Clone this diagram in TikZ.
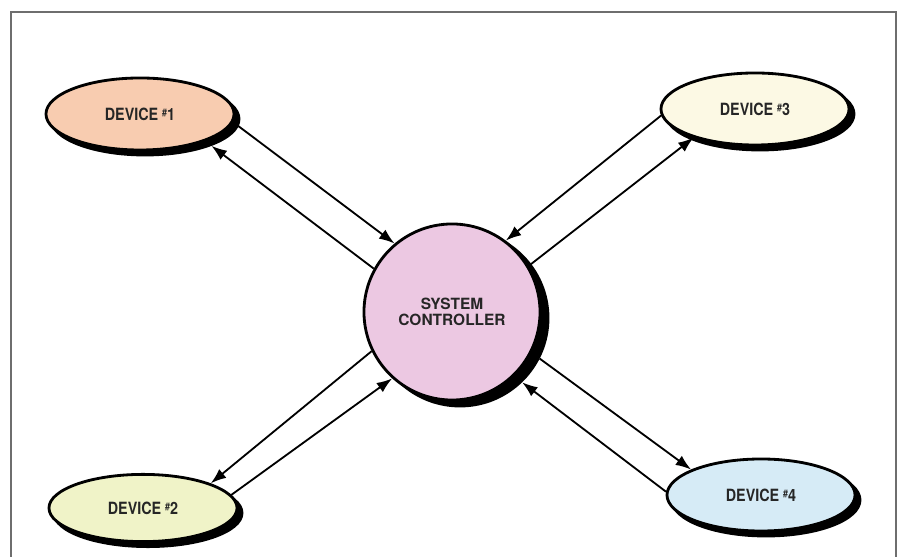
\documentclass[tikz,border=0pt]{standalone}
\usepackage{fontspec}
\setmainfont{TeX Gyre Heros}
\newfontfamily\devfont[FakeStretch=0.85]{TeX Gyre Heros}
\usetikzlibrary{arrows.meta,shapes.geometric}
\definecolor{cadre}{RGB}{110,110,110}
\definecolor{peche}{RGB}{248,204,176}
\definecolor{vertpale}{RGB}{240,243,200}
\definecolor{creme}{RGB}{252,249,228}
\definecolor{bleupale}{RGB}{214,235,246}
\definecolor{rose}{RGB}{236,200,226}
\newcommand{\devno}[1]{{\fontsize{7.5}{7.5}\selectfont\raisebox{2.5pt}{\#}}#1}

\begin{document}
\begin{tikzpicture}[x=0.025cm,y=0.025cm,
				dev/.style={ellipse,draw=black,line width=2pt,minimum width=4.7cm,minimum height=1.8cm,
					inner sep=0pt,text=black!85,font=\devfont\bfseries\fontsize{12}{14}\selectfont},
				devsh/.style={dev,fill=black},
				ctrl/.style={circle,draw=black,line width=2pt,minimum size=4.4cm,inner sep=0pt,
					align=center,text=black!85,font=\bfseries\fontsize{11}{11.5}\selectfont},
				arr/.style={-{Latex[length=11pt,width=8pt]},line width=1.3pt}]
				\useasboundingbox (0,0) rectangle (898,557);
				\draw[cadre,line width=1.4pt] (11,0) -- (11,545) -- (896,545) -- (896,0);
				
				% ombres
				\node[devsh] (d1s) at (145,438){};
				\node[devsh,minimum height=1.68cm] (d2s) at (148,44){};
				\node[devsh] (d3s) at (760,443){};
				\node[devsh] (d4s) at (766,57){};
				\node[ctrl,fill=black] (ctrls) at (460,239){};
				
				\node[dev,fill=peche] (d1) at (140,443){DEVICE \devno{1}};
				\node[dev,fill=vertpale,minimum height=1.68cm] (d2) at (143,49){DEVICE \devno{2}};
				\node[dev,fill=creme] (d3) at (755,448){DEVICE \devno{3}};
				\node[dev,fill=bleupale] (d4) at (761,62){DEVICE \devno{4}};
				\node[ctrl,fill=rose] (ctrl) at (452,245){SYSTEM\\CONTROLLER};
				
				\draw[arr] (d1.-5) -- (ctrl.130);
				\draw[arr] (ctrl.151) -- (d1s.-22);
				\draw[arr] (d3.184) -- (ctrl.53);
				\draw[arr] (ctrl.31) -- (d3.205);
				\draw[arr] (ctrl.206) -- (d2.20);
				\draw[arr] (d2s.12) -- (ctrl.228);
				\draw[arr] (ctrls.-27) -- (d4.160);
				\draw[arr] (d4.178) -- (ctrls.-46);
			\end{tikzpicture}
\end{document}
